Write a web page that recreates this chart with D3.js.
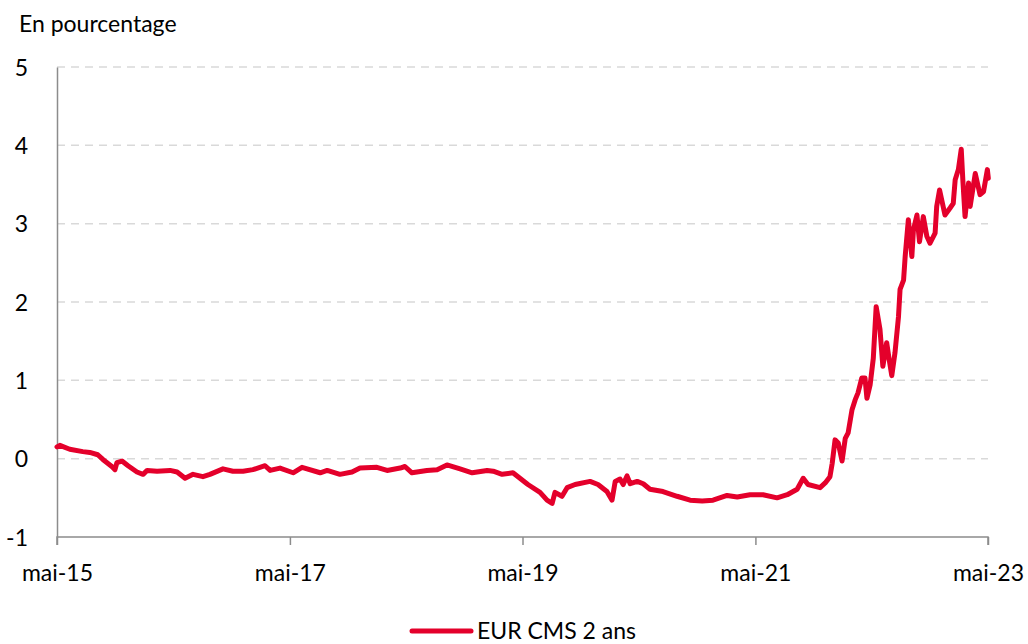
<!DOCTYPE html>
<html>
<head>
<meta charset="utf-8">
<script src="https://cdn.jsdelivr.net/npm/d3@7"></script>
<style>
  html, body { margin: 0; padding: 0; background: #fff; }
  svg text { font-family: Lato, "Open Sans", sans-serif; fill: #000; }
</style>
</head>
<body>
<svg id="chart" width="1028" height="644"></svg>
<script>
const dates = [
"2015-05-01","2015-05-10","2015-06-10","2015-07-21","2015-08-12","2015-09-06","2015-09-22","2015-10-20","2015-10-30","2015-11-05",
"2015-11-21","2015-12-10","2016-01-07","2016-01-26","2016-02-08","2016-03-10","2016-04-20","2016-05-12","2016-06-06","2016-07-01",
"2016-08-01","2016-08-23","2016-10-03","2016-11-03","2016-12-05","2017-01-05","2017-02-12","2017-02-28","2017-03-31","2017-05-11",
"2017-06-08","2017-08-04","2017-08-26","2017-10-05","2017-11-12","2017-12-07","2018-01-29","2018-03-02","2018-04-12","2018-04-27",
"2018-05-19","2018-07-05","2018-08-06","2018-09-06","2018-10-17","2018-11-24","2019-01-10","2019-01-29","2019-02-26","2019-04-01",
"2019-04-23","2019-05-18","2019-06-25","2019-07-17","2019-08-02","2019-08-11","2019-09-02","2019-09-18","2019-10-13","2019-11-29",
"2019-12-24","2020-01-21","2020-02-06","2020-02-16","2020-03-02","2020-03-12","2020-03-24","2020-04-03","2020-04-25","2020-05-14",
"2020-06-04","2020-07-15","2020-08-28","2020-10-08","2020-11-15","2020-12-19","2021-02-01","2021-03-05","2021-04-14","2021-05-25",
"2021-07-08","2021-08-09","2021-09-09","2021-09-28","2021-10-13","2021-11-20","2021-12-06","2021-12-21","2021-12-28","2022-01-06",
"2022-01-16","2022-01-28","2022-02-07","2022-02-16","2022-02-28","2022-03-10","2022-03-19","2022-03-31","2022-04-10","2022-04-16",
"2022-04-26","2022-05-06","2022-05-15","2022-05-22","2022-05-27","2022-06-05","2022-06-17","2022-06-25","2022-07-03","2022-07-13",
"2022-07-24","2022-07-29","2022-08-09","2022-08-14","2022-08-24","2022-09-04","2022-09-09","2022-09-20","2022-09-28","2022-10-10",
"2022-10-21","2022-10-31","2022-11-16","2022-11-21","2022-11-30","2022-12-17","2023-01-02","2023-01-12","2023-01-18","2023-01-28",
"2023-02-06","2023-02-11","2023-02-18","2023-03-01","2023-03-06","2023-03-22","2023-04-06","2023-04-17","2023-04-29","2023-05-02"
];
const values = [
0.15,0.17,0.12,0.09,0.08,0.05,-0.01,-0.10,-0.14,-0.05,
-0.03,-0.09,-0.17,-0.20,-0.15,-0.16,-0.15,-0.17,-0.25,-0.20,
-0.23,-0.20,-0.13,-0.16,-0.16,-0.14,-0.09,-0.15,-0.12,-0.18,
-0.11,-0.18,-0.15,-0.20,-0.17,-0.12,-0.11,-0.15,-0.12,-0.10,
-0.18,-0.15,-0.14,-0.08,-0.13,-0.18,-0.15,-0.16,-0.20,-0.18,
-0.25,-0.33,-0.43,-0.53,-0.57,-0.43,-0.48,-0.37,-0.33,-0.29,
-0.33,-0.42,-0.53,-0.29,-0.26,-0.33,-0.22,-0.32,-0.29,-0.32,
-0.39,-0.42,-0.48,-0.53,-0.54,-0.53,-0.47,-0.49,-0.46,-0.46,
-0.50,-0.46,-0.39,-0.25,-0.33,-0.37,-0.31,-0.23,-0.06,0.24,
0.20,-0.03,0.26,0.33,0.62,0.75,0.84,1.03,1.03,0.77,
0.94,1.28,1.94,1.77,1.65,1.18,1.48,1.26,1.06,1.35,
1.81,2.16,2.28,2.58,3.05,2.58,2.92,3.11,2.77,3.09,
2.84,2.75,2.88,3.22,3.43,3.11,3.20,3.26,3.56,3.69,
3.95,3.56,3.09,3.52,3.22,3.64,3.37,3.41,3.69,3.58
];
const yTicks = [-1, 0, 1, 2, 3, 4, 5];
const xTickDates = ["2015-05-01","2017-05-01","2019-05-01","2021-05-01","2023-05-01"];
const xTickLabels = ["mai-15","mai-17","mai-19","mai-21","mai-23"];
const yTitle = "En pourcentage";
const seriesName = "EUR CMS 2 ans";

const parse = d3.timeParse("%Y-%m-%d");
const data = dates.map((d, i) => ({ date: parse(d), value: values[i] }));

const svg = d3.select("#chart");
const mLeft = 57, mRight = 988, mTop = 67, mBottom = 537;
const red = "#e4002b";
const fontSize = "23px";

const x = d3.scaleTime()
  .domain([parse(xTickDates[0]), parse(xTickDates[xTickDates.length - 1])])
  .range([mLeft, mRight]);
const y = d3.scaleLinear().domain([-1, 5]).range([mBottom, mTop]);

// gridlines
svg.append("g").selectAll("line")
  .data(yTicks.filter(t => t > -1))
  .join("line")
  .attr("x1", mLeft).attr("x2", mRight)
  .attr("y1", d => y(d)).attr("y2", d => y(d))
  .attr("stroke", "#d9d9d9").attr("stroke-width", 1.5)
  .attr("stroke-dasharray", "8,6");

// y axis
const yAxis = d3.axisLeft(y).tickValues(yTicks).tickSize(0).tickPadding(29)
  .tickFormat(d => String(d));
const gy = svg.append("g").attr("transform", `translate(${mLeft},0)`).call(yAxis);
gy.select(".domain").attr("stroke", "#8c8c8c").attr("stroke-width", 1.5);
gy.selectAll("text").style("font-size", fontSize).attr("dy", "0.35em");

// x axis
const xAxis = d3.axisBottom(x).tickValues(xTickDates.map(parse)).tickSize(8).tickPadding(20)
  .tickFormat((d, i) => xTickLabels[i]);
const gx = svg.append("g").attr("transform", `translate(0,${mBottom})`).call(xAxis);
gx.select(".domain").attr("stroke", "#8c8c8c").attr("stroke-width", 1.5)
  .attr("d", `M${mLeft},8V0H${mRight}V8`);
gx.selectAll(".tick line").attr("stroke", "#8c8c8c").attr("stroke-width", 1.5);
gx.selectAll("text").style("font-size", fontSize);

// line
const line = d3.line().x(d => x(d.date)).y(d => y(d.value));
svg.append("path").datum(data)
  .attr("d", line)
  .attr("fill", "none")
  .attr("stroke", red)
  .attr("stroke-width", 5)
  .attr("stroke-linejoin", "round")
  .attr("stroke-linecap", "round");

// title
svg.append("text").attr("x", 19).attr("y", 32).text(yTitle).style("font-size", fontSize);

// legend
svg.append("line").attr("x1", 412).attr("x2", 471).attr("y1", 631).attr("y2", 631)
  .attr("stroke", red).attr("stroke-width", 5).attr("stroke-linecap", "round");
svg.append("text").attr("x", 477).attr("y", 639).text(seriesName).style("font-size", fontSize);
</script>
</body>
</html>
